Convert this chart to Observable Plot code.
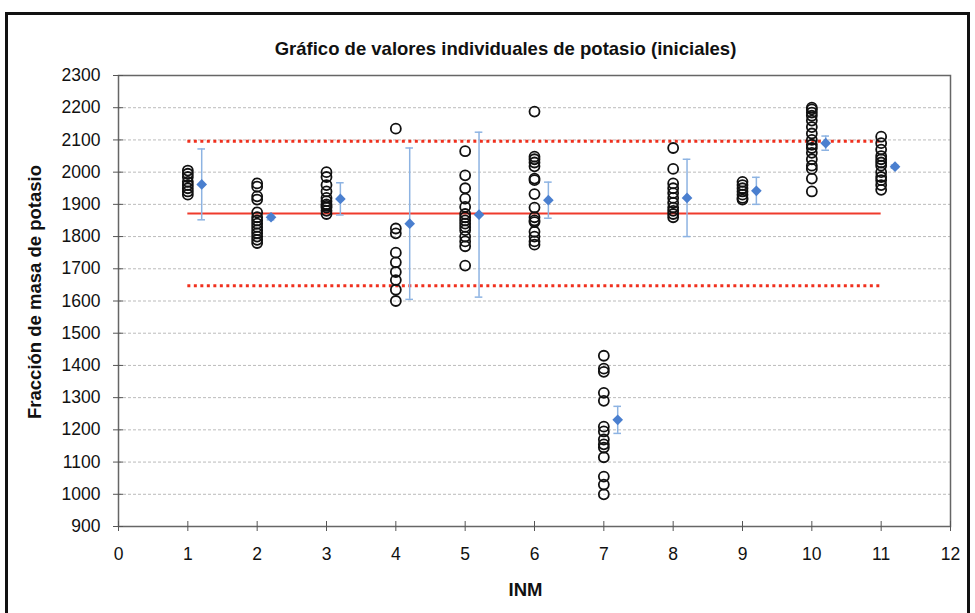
<!DOCTYPE html>
<html>
<head>
<meta charset="utf-8">
<script src="https://cdn.jsdelivr.net/npm/d3@7"></script>
<script src="https://cdn.jsdelivr.net/npm/@observablehq/plot@0.6"></script>
<style>
  html, body { margin: 0; padding: 0; background: #fff; }
</style>
</head>
<body>
<div id="chart"></div>
<script>
const title = "Gráfico de valores individuales de potasio (iniciales)";
const yLabel = "Fracción de masa de potasio";
const xLabel = "INM";

const inm = [1, 2, 3, 4, 5, 6, 7, 8, 9, 10, 11];
const values = [
  [2005, 1995, 1985, 1970, 1960, 1950, 1940, 1930],
  [1965, 1955, 1925, 1915, 1875, 1860, 1850, 1840, 1830, 1820, 1810, 1800, 1790, 1780],
  [2000, 1985, 1960, 1940, 1920, 1910, 1900, 1895, 1890, 1880, 1870],
  [2135, 1825, 1810, 1750, 1720, 1690, 1665, 1635, 1600],
  [2065, 1990, 1950, 1918, 1892, 1870, 1860, 1850, 1840, 1830, 1820, 1800, 1785, 1770, 1710],
  [2188, 2048, 2040, 2030, 2018, 1980, 1975, 1932, 1890, 1860, 1850, 1845, 1815, 1800, 1785, 1775],
  [1430, 1390, 1380, 1315, 1290, 1210, 1195, 1170, 1155, 1145, 1115, 1055, 1030, 1000],
  [2075, 2010, 1965, 1950, 1935, 1920, 1905, 1890, 1880, 1870, 1860],
  [1970, 1960, 1950, 1940, 1930, 1920, 1915],
  [2200, 2195, 2185, 2175, 2160, 2140, 2120, 2100, 2085, 2075, 2060, 2040, 2020, 2010, 1980, 1940],
  [2110, 2090, 2070, 2050, 2040, 2030, 2020, 2000, 1985, 1975, 1960, 1945]
];
const means = [1962, 1860, 1917, 1840, 1868, 1913, 1231, 1920, 1942, 2090, 2017];
const uncert = [110, 8, 50, 235, 256, 56, 42, 120, 42, 22, 5];
const meanOffset = 0.2;

const refValue = 1872;
const refLimits = [2096, 1647];
const refRange = [1, 11];

const xTicks = [0, 1, 2, 3, 4, 5, 6, 7, 8, 9, 10, 11, 12];
const yTicks = [900, 1000, 1100, 1200, 1300, 1400, 1500, 1600, 1700, 1800, 1900, 2000, 2100, 2200, 2300];

const points = inm.flatMap((x, i) => values[i].map(v => ({x, v})));
const summary = inm.map((x, i) => ({x: x + meanOffset, m: means[i], lo: means[i] - uncert[i], hi: means[i] + uncert[i]}));
const capHalf = 0.055;

const font = "'Liberation Sans', Arial, sans-serif";

const chart = Plot.plot({
  width: 975,
  height: 613,
  marginLeft: 118,
  marginRight: 25,
  marginTop: 75,
  marginBottom: 87,
  style: {fontFamily: font, fontSize: "17.5px", color: "#111", background: "#fff"},
  x: {domain: [0, 12], ticks: xTicks, label: null},
  y: {domain: [900, 2300], ticks: yTicks, label: null},
  marks: [
    Plot.frame({insetLeft: -112, insetTop: -62, insetRight: -18, insetBottom: -100, stroke: "#111", strokeWidth: 3}),
    Plot.gridY(yTicks.filter(t => t > 900 && t < 2300), {stroke: "#bbb", strokeOpacity: 1, strokeDasharray: "3,2"}),
    Plot.frame({stroke: "#666", strokeWidth: 1.5}),
    Plot.axisY(yTicks, {tickSize: 5, tickPadding: 13, stroke: "#555", fontSize: 17.5, label: null, tickFormat: d => String(d)}),
    Plot.axisY(yTicks, {tickSize: -5, text: null, label: null, stroke: "#555"}),
    Plot.axisX(xTicks, {tickSize: 5, tickPadding: 16, stroke: "#555", fontSize: 17.5, label: null, tickFormat: d => String(d)}),
    Plot.axisX(xTicks, {tickSize: -5, text: null, label: null, stroke: "#555"}),
    Plot.ruleY([refValue], {x1: refRange[0], x2: refRange[1], stroke: "#ef3b2c", strokeWidth: 2}),
    Plot.ruleY(refLimits, {x1: refRange[0], x2: refRange[1], stroke: "#f0301e", strokeWidth: 3, strokeDasharray: "3,3.5"}),
    Plot.ruleX(summary, {x: "x", y1: "lo", y2: "hi", stroke: "#8db3e2", strokeWidth: 1.5}),
    Plot.ruleY(summary, {y: "lo", x1: d => d.x - capHalf, x2: d => d.x + capHalf, stroke: "#8db3e2", strokeWidth: 1.5}),
    Plot.ruleY(summary, {y: "hi", x1: d => d.x - capHalf, x2: d => d.x + capHalf, stroke: "#8db3e2", strokeWidth: 1.5}),
    Plot.dot(points, {x: "x", y: "v", r: 5, stroke: "#111", strokeWidth: 1.8, fill: "none"}),
    Plot.dot(summary, {x: "x", y: "m", symbol: "diamond2", r: 4.8, fill: "#4a7fcf", stroke: "none"}),
    Plot.text([title], {frameAnchor: "top", lineAnchor: "middle", dx: -29, dy: -26, fontWeight: "bold", fontSize: 18.5, fill: "#111"}),
    Plot.text([yLabel], {frameAnchor: "left", textAnchor: "middle", lineAnchor: "middle", dx: -83, dy: -9, rotate: -90, fontWeight: "bold", fontSize: 18.5, fill: "#111"}),
    Plot.text([xLabel], {frameAnchor: "bottom", lineAnchor: "middle", dx: -9, dy: 64, fontWeight: "bold", fontSize: 18.5, fill: "#111"})
  ]
});
document.getElementById("chart").appendChild(chart);
</script>
</body>
</html>
